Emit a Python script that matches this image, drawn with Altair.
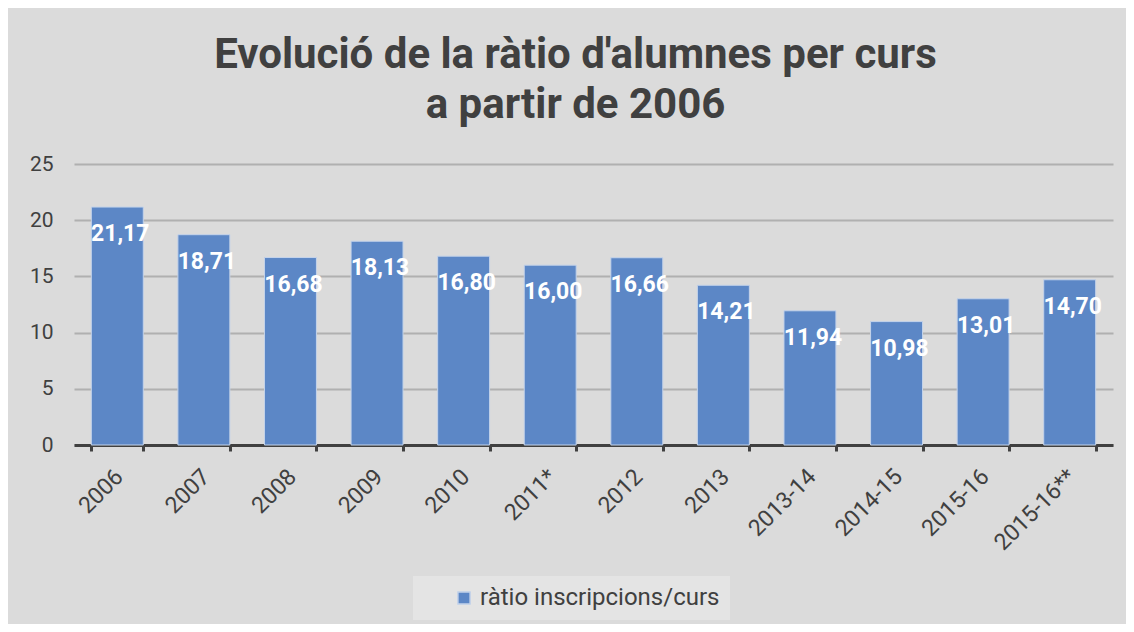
import altair as alt
import pandas as pd

categories = ["2006", "2007", "2008", "2009", "2010", "2011*", "2012", "2013",
              "2013-14", "2014-15", "2015-16", "2015-16**"]
values = [21.17, 18.71, 16.68, 18.13, 16.80, 16.00, 16.66, 14.21, 11.94, 10.98, 13.01, 14.70]
series_name = "ràtio inscripcions/curs"

df = pd.DataFrame({
    "curs": categories,
    "ratio": values,
    "label": [f"{v:.2f}".replace(".", ",") for v in values],
    "serie": [series_name] * len(values),
})

FONT = "Roboto"
TXT = "#404040"

x = alt.X("curs:N", sort=categories, title=None,
          scale=alt.Scale(paddingInner=0.4, paddingOuter=0.2),
          axis=alt.Axis(labelAngle=-45, labelFontSize=23, labelColor=TXT, labelFont=FONT,
                        labelPadding=14, labelOffset=-6, domainColor=TXT, domainWidth=3,
                        tickColor=TXT, tickWidth=3, tickSize=6, tickBand="extent",
                        grid=False))

bars = alt.Chart(df).mark_bar(stroke="#c4d3ea", strokeWidth=1).encode(
    x=x,
    y=alt.Y("ratio:Q", title=None,
            scale=alt.Scale(domain=[0, 25], nice=False),
            axis=alt.Axis(values=[0, 5, 10, 15, 20, 25], domain=False, ticks=False,
                          labelFontSize=21, labelColor=TXT, labelFont=FONT, labelPadding=21,
                          gridColor="#b0b0b0", gridWidth=2)),
    color=alt.Color("serie:N", title=None,
                    scale=alt.Scale(range=["#5c87c6"]),
                    legend=alt.Legend(orient="none", legendX=339, legendY=412,
                                      fillColor="#e4e4e4", padding=10, symbolOffset=29,
                                      symbolType="square", symbolSize=150,
                                      labelFontSize=24, labelColor=TXT, labelFont=FONT,
                                      labelLimit=400)),
)

texts = alt.Chart(df).mark_text(color="white", fontWeight="bold", fontSize=23, font=FONT,
                                baseline="middle", dy=27, dx=3).encode(
    x=alt.X("curs:N", sort=categories),
    y="ratio:Q",
    text="label:N",
)

chart = (bars + texts).properties(
    width=1039,
    height=281,
    autosize=alt.AutoSizeParams(type="none"),
    padding={"left": 66, "right": 13, "top": 156, "bottom": 179},
    background="#dbdbdb",
    title=alt.Title(["Evolució de la ràtio d'alumnes per curs", "a partir de 2006"],
                    fontSize=42, font=FONT, fontWeight="bold", color=TXT,
                    anchor="middle", dx=-18, offset=26, lineHeight=50),
).configure_view(stroke=None)

chart.save("out.html", embed_options={"renderer": "svg", "actions": False})
